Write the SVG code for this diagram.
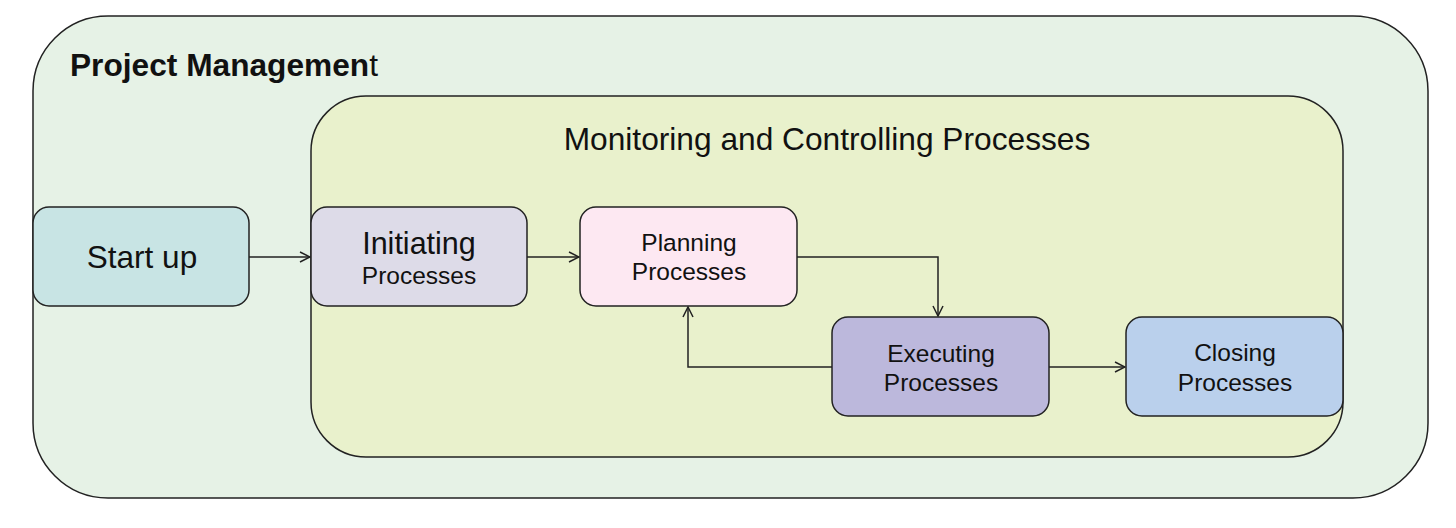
<svg xmlns="http://www.w3.org/2000/svg" width="1456" height="528" viewBox="0 0 1456 528">
<defs>
<style>
.box{stroke:#222;stroke-width:1.5}
.t{font-family:"Liberation Sans",Arial,sans-serif;fill:#111;text-anchor:middle}
.s{font-size:24.5px}
.c{fill:none;stroke:#222;stroke-width:1.5}
</style>
<marker id="ar" viewBox="0 0 12 12" refX="11" refY="6" markerWidth="12" markerHeight="12" markerUnits="userSpaceOnUse" orient="auto">
<path d="M1,1 L11,6 L1,11" fill="none" stroke="#222" stroke-width="1.5"/>
</marker>
</defs>
<rect width="1456" height="528" fill="#fff"/>
<g id="project-management">
<rect class="box" x="33" y="16" width="1395" height="482" rx="75" ry="75" fill="#e6f2e6" stroke-width="2"/>
<text x="70" y="76" font-family="Liberation Sans,Arial,sans-serif" font-size="31.5" font-weight="bold" fill="#111" textLength="308" lengthAdjust="spacingAndGlyphs">Project Managemen<tspan font-weight="normal">t</tspan></text>
</g>
<g id="monitoring">
<rect class="box" x="311" y="96" width="1032" height="361" rx="55" ry="55" fill="#e9f1cc"/>
<text class="t" x="827" y="150" font-size="31.7">Monitoring and Controlling Processes</text>
</g>
<g id="startup">
<rect class="box" x="33" y="207" width="216" height="99" rx="16" fill="#c8e4e4"/>
<text class="t" x="142" y="268" font-size="31.5">Start up</text>
</g>
<g id="initiating">
<rect class="box" x="311" y="207" width="216" height="99" rx="16" fill="#dddbe8"/>
<text class="t" x="419" y="254" font-size="30.5">Initiating</text>
<text class="t s" x="419" y="284">Processes</text>
</g>
<g id="planning">
<rect class="box" x="580" y="207" width="217" height="99" rx="16" fill="#fde8f2"/>
<text class="t s" x="689" y="251">Planning</text>
<text class="t s" x="689" y="280">Processes</text>
</g>
<g id="executing">
<rect class="box" x="832" y="317" width="217" height="99" rx="16" fill="#bcb8dc"/>
<text class="t s" x="941" y="362">Executing</text>
<text class="t s" x="941" y="391">Processes</text>
</g>
<g id="closing">
<rect class="box" x="1126" y="317" width="217" height="99" rx="16" fill="#bad0ec"/>
<text class="t s" x="1235" y="361">Closing</text>
<text class="t s" x="1235" y="391">Processes</text>
</g>
<g id="connectors">
<path class="c" d="M249,257 H310" marker-end="url(#ar)"/>
<path class="c" d="M527,257 H579" marker-end="url(#ar)"/>
<path class="c" d="M797,257 H938 V316" marker-end="url(#ar)"/>
<path class="c" d="M832,367 H688 V307" marker-end="url(#ar)"/>
<path class="c" d="M1049,367 H1125" marker-end="url(#ar)"/>
</g>
</svg>
